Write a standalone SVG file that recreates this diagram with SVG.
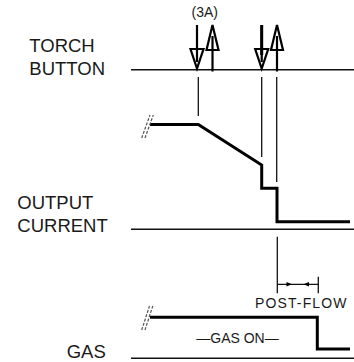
<svg xmlns="http://www.w3.org/2000/svg" width="354" height="362" viewBox="0 0 354 362">
<style>
.lbl{font-family:"Liberation Sans",Arial,sans-serif;font-size:18.5px;fill:#1a1a1a}
.sm{font-family:"Liberation Sans",Arial,sans-serif;font-size:14px;fill:#1a1a1a}
.base{stroke:#111;stroke-width:1.5;fill:none}
.wave{stroke:#000;stroke-width:3;fill:none;stroke-linejoin:miter}
.thin{stroke:#111;stroke-width:1.3;fill:none}
.brk{stroke:#555;stroke-width:1.2;stroke-dasharray:3 1.5;fill:none}
.arr{stroke:#000;stroke-width:2.2;fill:none;stroke-linejoin:miter}
</style>
<defs>
<g id="down">
<line x1="0" y1="-45" x2="0" y2="-8" class="arr"/>
<polygon points="-6.5,-21 6.5,-21 0,-1.5" class="arr"/>
</g>
<g id="up">
<polygon points="0,-45 -6,-20 6,-20" class="arr"/>
<line x1="0" y1="-34" x2="0" y2="1.5" class="arr"/>
</g>
</defs>

<g id="labels">
<text class="lbl" x="29.3" y="51.7">TORCH</text>
<text class="lbl" x="29.3" y="75">BUTTON</text>
<text class="lbl" x="17.3" y="209.3">OUTPUT</text>
<text class="lbl" x="17.3" y="232">CURRENT</text>
<text class="lbl" x="66.7" y="357.5">GAS</text>
</g>

<g id="torch-button">
<line x1="131" y1="69.7" x2="354" y2="69.7" class="base"/>
<use href="#down" x="197" y="70"/>
<use href="#up" x="212.5" y="70"/>
<use href="#down" x="261.7" y="70"/>
<line x1="261.7" y1="25" x2="261.7" y2="55" stroke="#000" stroke-width="3"/>
<use href="#up" x="277" y="70"/>
<text class="sm" x="204.7" y="17" text-anchor="middle">(3A)</text>
</g>

<g id="output-current">
<line x1="131" y1="229.3" x2="354" y2="229.3" class="base"/>
<polyline points="150,124.5 198.3,124.5 261.7,165 261.7,188.3 277,188.3 277,221.7 350,221.7" class="wave"/>
<line x1="141.7" y1="138" x2="150" y2="115" class="brk"/>
<line x1="145" y1="138" x2="153.3" y2="115" class="brk"/>
</g>

<g id="gas">
<line x1="131" y1="358.3" x2="354" y2="358.3" class="base"/>
<polyline points="150,317.2 317.3,317.2 317.3,349 350,349" class="wave"/>
<line x1="141.7" y1="330" x2="149.5" y2="306" class="brk"/>
<line x1="145" y1="330" x2="152.8" y2="306" class="brk"/>
<text class="sm" x="237.5" y="343" text-anchor="middle">—GAS ON—</text>
<text class="sm" x="255" y="308.3" font-size="15" textLength="91.5">POST-FLOW</text>
</g>

<g id="connectors">
<line x1="198.3" y1="77" x2="198.3" y2="116" class="thin"/>
<line x1="261.7" y1="77" x2="261.7" y2="157" class="thin"/>
<line x1="276.7" y1="77" x2="276.7" y2="182" class="thin"/>
<line x1="277.3" y1="236.7" x2="277.3" y2="293.3" class="thin"/>
<line x1="318.3" y1="276.7" x2="318.3" y2="293.3" class="thin"/>
<line x1="277.3" y1="284.3" x2="318.3" y2="284.3" class="thin"/>
<path d="M292,284.3 L286.5,282 L286.5,286.6 Z" fill="#000"/>
<path d="M303.5,284.3 L309,282 L309,286.6 Z" fill="#000"/>
</g>
</svg>
